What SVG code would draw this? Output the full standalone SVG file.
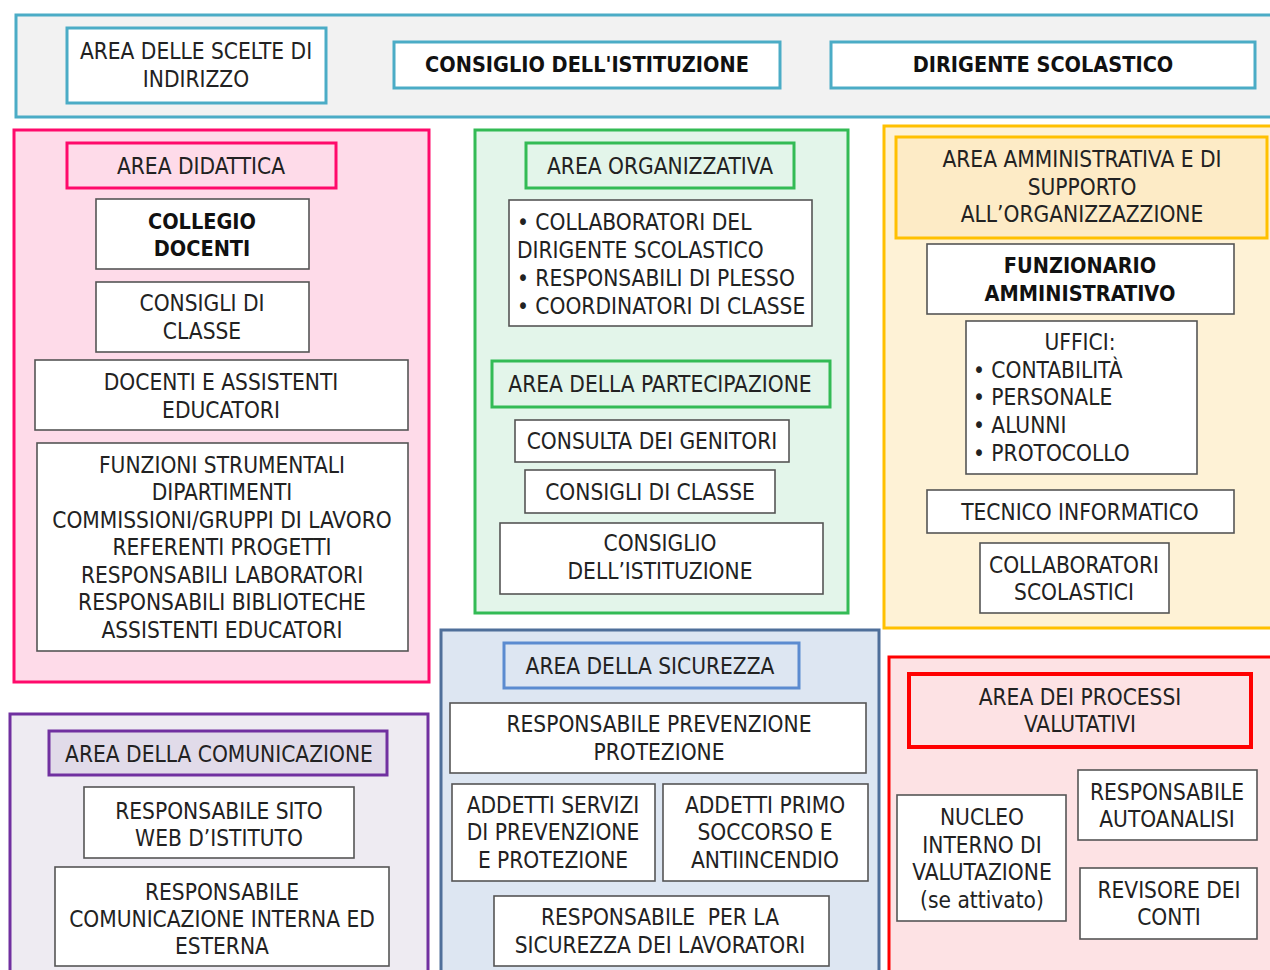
<svg xmlns="http://www.w3.org/2000/svg" width="1270" height="970" viewBox="0 0 1270 970">
<style>
text{font-family:"DejaVu Sans Condensed","DejaVu Sans",sans-serif;font-size:22.5px;fill:#222;text-anchor:middle}
.b{font-weight:bold;fill:#111;font-size:21.5px}
.l{text-anchor:start}
.n{fill:#fff;stroke:#555;stroke-width:1.6}
.tb{fill:#fff;stroke:#4bacc6;stroke-width:3}
</style>
<rect width="1270" height="970" fill="#fff"/>
<g id="top">
<rect x="16" y="15" width="1262" height="102" fill="#f2f2f2" stroke="#4bacc6" stroke-width="3"/>
<g id="scelte"><rect class="tb" x="67" y="28" width="259" height="75"/><text x="196" y="59">AREA DELLE SCELTE DI</text><text x="196" y="87">INDIRIZZO</text></g>
<g id="consiglio-top"><rect class="tb" x="394" y="42" width="386" height="46"/><text class="b" x="587" y="72">CONSIGLIO DELL'ISTITUZIONE</text></g>
<g id="dirigente"><rect class="tb" x="831" y="42" width="424" height="46"/><text class="b" x="1043" y="72">DIRIGENTE SCOLASTICO</text></g>
</g>
<g id="didattica">
<rect x="14" y="130" width="415" height="552" fill="#fedbe9" stroke="#ff0a6b" stroke-width="3"/>
<rect x="67" y="143" width="269" height="45" fill="#fedbe9" stroke="#ff0a6b" stroke-width="3"/>
<text x="201" y="174">AREA DIDATTICA</text>
<g id="collegio"><rect class="n" x="96" y="199" width="213" height="70"/><text class="b" x="202" y="229">COLLEGIO</text><text class="b" x="202" y="256">DOCENTI</text></g>
<g id="consigli1"><rect class="n" x="96" y="282" width="213" height="70"/><text x="202" y="311">CONSIGLI DI</text><text x="202" y="339">CLASSE</text></g>
<g id="docenti"><rect class="n" x="35" y="360" width="373" height="70"/><text x="221" y="390">DOCENTI E ASSISTENTI</text><text x="221" y="418">EDUCATORI</text></g>
<g id="funzioni"><rect class="n" x="37" y="443" width="371" height="208"/>
<text x="222" y="473">FUNZIONI STRUMENTALI</text><text x="222" y="500">DIPARTIMENTI</text><text x="222" y="528">COMMISSIONI/GRUPPI DI LAVORO</text><text x="222" y="555">REFERENTI PROGETTI</text><text x="222" y="583">RESPONSABILI LABORATORI</text><text x="222" y="610">RESPONSABILI BIBLIOTECHE</text><text x="222" y="638">ASSISTENTI EDUCATORI</text></g>
</g>
<g id="organizzativa">
<rect x="475" y="130" width="373" height="483" fill="#e3f5ea" stroke="#33bb55" stroke-width="3"/>
<rect x="526" y="143" width="268" height="45" fill="#e3f5ea" stroke="#33bb55" stroke-width="3"/>
<text x="660" y="174">AREA ORGANIZZATIVA</text>
<g id="collab"><rect class="n" x="509" y="200" width="303" height="126"/>
<text class="l" x="517" y="230">• COLLABORATORI DEL</text><text class="l" x="517" y="258">DIRIGENTE SCOLASTICO</text><text class="l" x="517" y="286">• RESPONSABILI DI PLESSO</text><text class="l" x="517" y="314">• COORDINATORI DI CLASSE</text></g>
<rect x="492" y="361" width="338" height="46" fill="#e3f5ea" stroke="#33bb55" stroke-width="3"/>
<text x="660" y="392">AREA DELLA PARTECIPAZIONE</text>
<g id="consulta"><rect class="n" x="515" y="420" width="274" height="42"/><text x="652" y="449">CONSULTA DEI GENITORI</text></g>
<g id="consigli2"><rect class="n" x="525" y="470" width="250" height="43"/><text x="650" y="500">CONSIGLI DI CLASSE</text></g>
<g id="consiglio2"><rect class="n" x="500" y="523" width="323" height="71"/><text x="660" y="551">CONSIGLIO</text><text x="660" y="579">DELL’ISTITUZIONE</text></g>
</g>
<g id="amministrativa">
<rect x="884" y="126" width="394" height="502" fill="#fef2d6" stroke="#ffc000" stroke-width="3"/>
<rect x="896" y="137" width="371" height="101" fill="#fdebc6" stroke="#ffc000" stroke-width="3"/>
<text x="1082" y="167">AREA AMMINISTRATIVA E DI</text><text x="1082" y="195">SUPPORTO</text><text x="1082" y="222">ALL’ORGANIZZAZZIONE</text>
<g id="funzionario"><rect class="n" x="927" y="244" width="307" height="70"/><text class="b" x="1080" y="273">FUNZIONARIO</text><text class="b" x="1080" y="301">AMMINISTRATIVO</text></g>
<g id="uffici"><rect class="n" x="966" y="321" width="231" height="153"/>
<text x="1080" y="350">UFFICI:</text><text class="l" x="973" y="378">• CONTABILITÀ</text><text class="l" x="973" y="405">• PERSONALE</text><text class="l" x="973" y="433">• ALUNNI</text><text class="l" x="973" y="461">• PROTOCOLLO</text></g>
<g id="tecnico"><rect class="n" x="927" y="490" width="307" height="43"/><text x="1080" y="520">TECNICO INFORMATICO</text></g>
<g id="collabscol"><rect class="n" x="980" y="543" width="189" height="70"/><text x="1074" y="573">COLLABORATORI</text><text x="1074" y="600">SCOLASTICI</text></g>
</g>
<g id="sicurezza">
<rect x="441" y="630" width="438" height="350" fill="#dde6f2" stroke="#4f6f9a" stroke-width="3"/>
<rect x="504" y="643" width="295" height="45" fill="#dde6f2" stroke="#5b8bd0" stroke-width="3"/>
<text x="650" y="674">AREA DELLA SICUREZZA</text>
<g id="rpp"><rect class="n" x="450" y="703" width="416" height="70"/><text x="659" y="732">RESPONSABILE PREVENZIONE</text><text x="659" y="760">PROTEZIONE</text></g>
<g id="addserv"><rect class="n" x="452" y="784" width="203" height="97"/><text x="553" y="813">ADDETTI SERVIZI</text><text x="553" y="840">DI PREVENZIONE</text><text x="553" y="868">E PROTEZIONE</text></g>
<g id="addprimo"><rect class="n" x="663" y="784" width="205" height="97"/><text x="765" y="813">ADDETTI PRIMO</text><text x="765" y="840">SOCCORSO E</text><text x="765" y="868">ANTIINCENDIO</text></g>
<g id="rls"><rect class="n" x="494" y="896" width="335" height="70"/><text x="660" y="925" xml:space="preserve">RESPONSABILE  PER LA</text><text x="660" y="953">SICUREZZA DEI LAVORATORI</text></g>
</g>
<g id="valutativi">
<rect x="889" y="657" width="389" height="323" fill="#fde2e4" stroke="#ff0000" stroke-width="3"/>
<rect x="909" y="674" width="342" height="73" fill="#fde2e4" stroke="#ff0000" stroke-width="4"/>
<text x="1080" y="705">AREA DEI PROCESSI</text><text x="1080" y="732">VALUTATIVI</text>
<g id="autoanalisi"><rect class="n" x="1078" y="770" width="179" height="70"/><text x="1167" y="800">RESPONSABILE</text><text x="1167" y="827">AUTOANALISI</text></g>
<g id="nucleo"><rect class="n" x="897" y="795" width="169" height="126"/><text x="982" y="825">NUCLEO</text><text x="982" y="853">INTERNO DI</text><text x="982" y="880">VALUTAZIONE</text><text x="982" y="908">(se attivato)</text></g>
<g id="revisore"><rect class="n" x="1080" y="868" width="177" height="71"/><text x="1169" y="898">REVISORE DEI</text><text x="1169" y="925">CONTI</text></g>
</g>
<g id="comunicazione">
<rect x="10" y="714" width="418" height="266" fill="#eeebf2" stroke="#7030a0" stroke-width="3"/>
<rect x="49" y="731" width="338" height="44" fill="#e1dbe9" stroke="#7030a0" stroke-width="3"/>
<text x="219" y="762">AREA DELLA COMUNICAZIONE</text>
<g id="sito"><rect class="n" x="84" y="787" width="270" height="71"/><text x="219" y="819">RESPONSABILE SITO</text><text x="219" y="846">WEB D’ISTITUTO</text></g>
<g id="comint"><rect class="n" x="55" y="867" width="334" height="99"/><text x="222" y="900">RESPONSABILE</text><text x="222" y="927">COMUNICAZIONE INTERNA ED</text><text x="222" y="954">ESTERNA</text></g>
</g>
<g id="connectors"></g>
</svg>
